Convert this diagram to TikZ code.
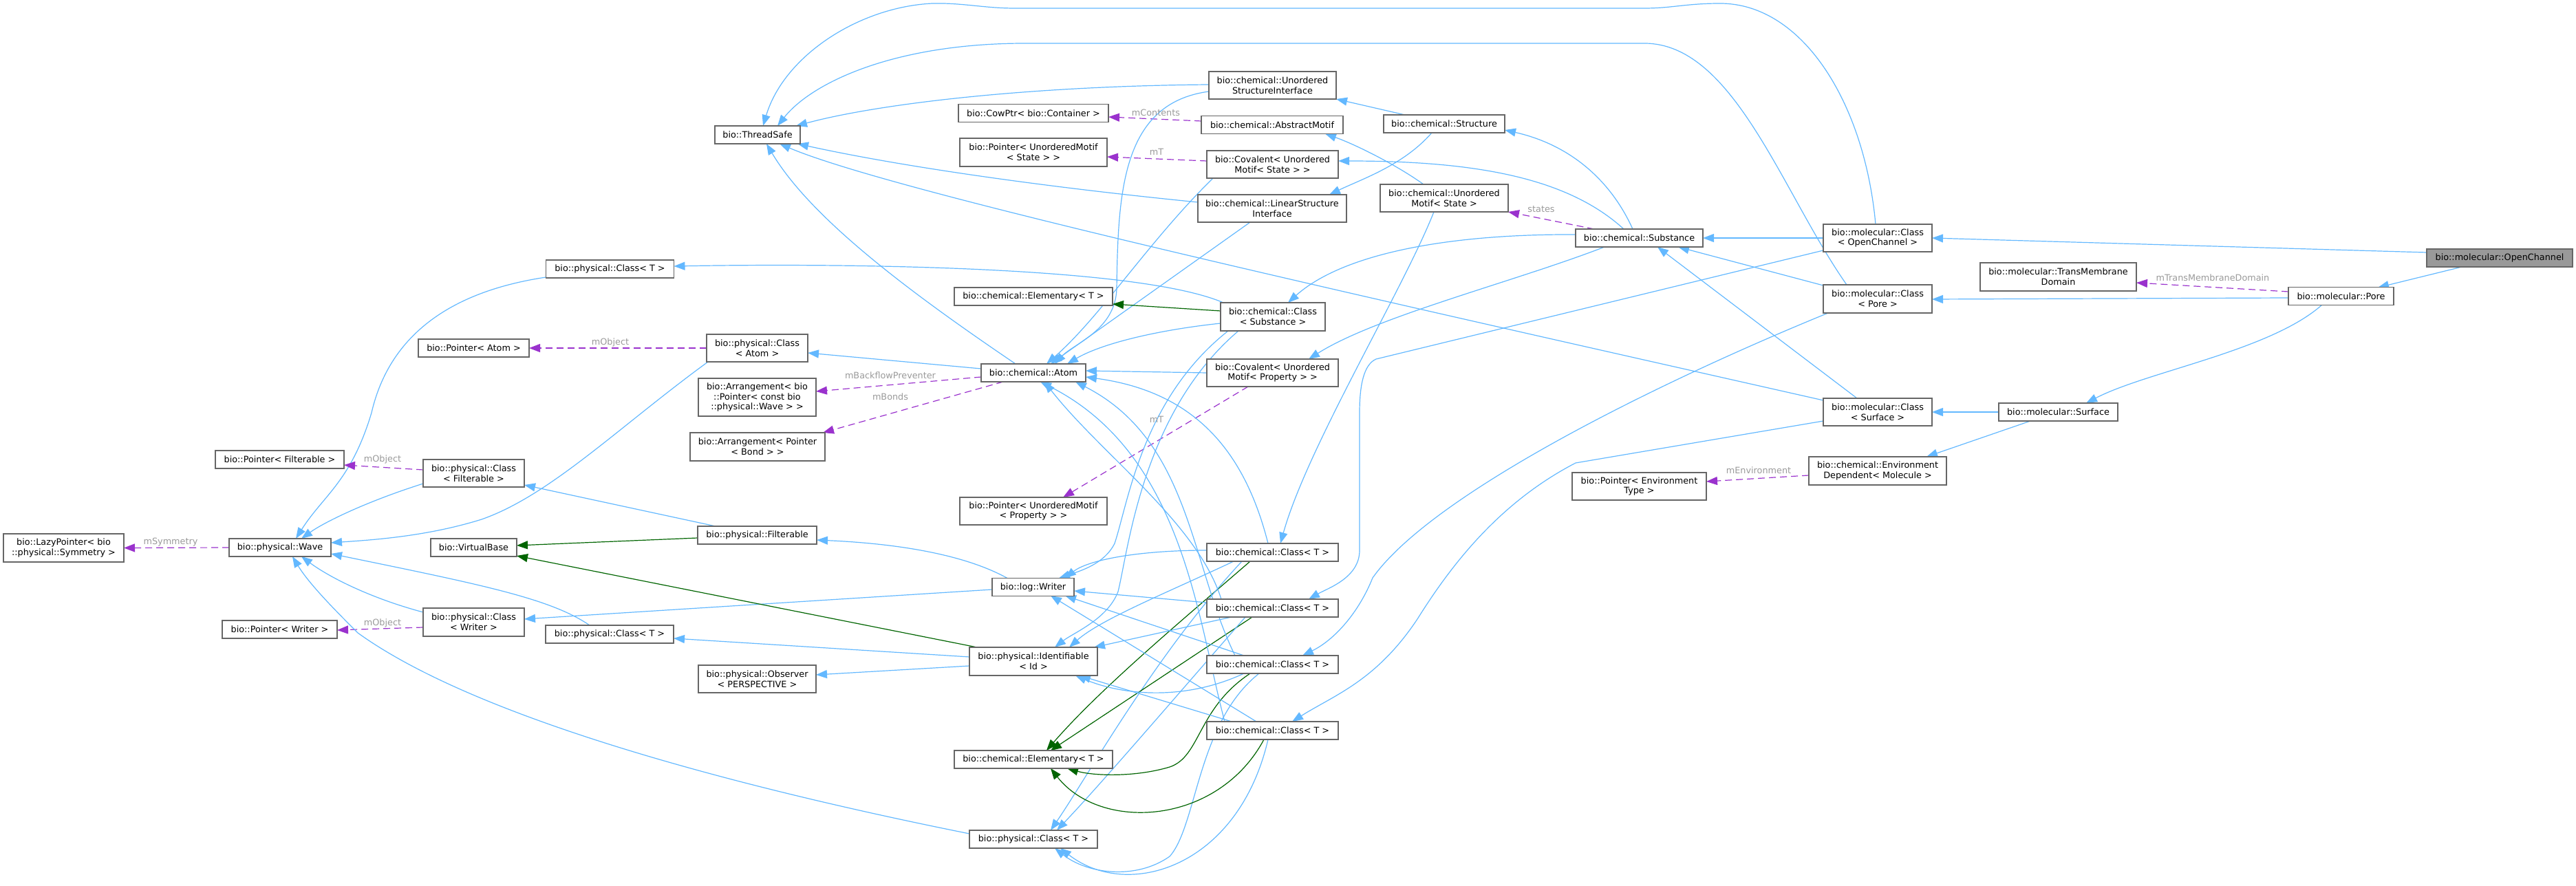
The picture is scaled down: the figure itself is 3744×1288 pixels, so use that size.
\documentclass[tikz,border=0pt]{standalone}
\usepackage{fontspec}
\setmainfont{DejaVu Sans}
\usetikzlibrary{arrows.meta,calc,backgrounds}
\definecolor{inhblue}{HTML}{63B8FF}
\definecolor{protgreen}{HTML}{006400}
\definecolor{usepurple}{HTML}{9A32CD}
\definecolor{lblgrey}{HTML}{9A9A9A}
\definecolor{boxborder}{HTML}{666666}
\definecolor{ocfill}{HTML}{999999}
\begin{document}
\begin{tikzpicture}[x=0.5pt,y=-0.5pt,
  box/.style={draw=boxborder,line width=0.6pt,fill=white,inner sep=0pt,align=center,
    font=\fontsize{6.4}{7.3}\selectfont},
  bx/.style 2 args={minimum width=#1*0.5pt,minimum height=#2*0.5pt},
  inh/.style={draw=inhblue,line width=0.6pt,-{Triangle[length=8pt,width=6pt]}},
  prot/.style={draw=protgreen,line width=0.6pt,-{Triangle[length=8pt,width=6pt]}},
  use/.style={draw=usepurple,line width=0.6pt,dash pattern=on 5pt off 3pt,
    -{Triangle[length=8pt,width=6pt]}},
  lbl/.style={text=lblgrey,inner sep=0pt,font=\fontsize{6.4}{7.3}\selectfont}]
\useasboundingbox (0,0) rectangle (3744,1288);

% ---------------- nodes ----------------
\node[box,bx={212}{26},fill=ocfill] (oc) at (3633,375) {bio::molecular::OpenChannel};
\node[box,bx={158}{40}] (coc) at (2729,346) {bio::molecular::Class\\< OpenChannel >};
\node[box,bx={153}{26}] (pore) at (3402.5,430.5) {bio::molecular::Pore};
\node[box,bx={227}{41}] (tmd) at (2991.5,402.5) {bio::molecular::TransMembrane\\Domain};
\node[box,bx={158}{41}] (cpore) at (2729,434.5) {bio::molecular::Class\\< Pore >};
\node[box,bx={173}{26}] (surf) at (2991.5,599) {bio::molecular::Surface};
\node[box,bx={158}{40}] (csurf) at (2729,599) {bio::molecular::Class\\< Surface >};
\node[box,bx={200}{41}] (env) at (2729,684.5) {bio::chemical::Environment\\Dependent< Molecule >};
\node[box,bx={195}{40}] (penv) at (2382.5,707) {bio::Pointer< Environment\\Type >};
\node[box,bx={185}{26}] (sub) at (2382.5,346) {bio::chemical::Substance};
\node[box,bx={176}{26}] (struct) at (2099,180) {bio::chemical::Structure};
\node[box,bx={186}{40}] (ums) at (2099,288) {bio::chemical::Unordered\\Motif< State >};
\node[box,bx={185}{40}] (usi) at (1849.5,124) {bio::chemical::Unordered\\StructureInterface};
\node[box,bx={206}{26}] (am) at (1849,181.5) {bio::chemical::AbstractMotif};
\node[box,bx={191}{40}] (covs) at (1849.5,239) {bio::Covalent< Unordered\\Motif< State > >};
\node[box,bx={216}{40}] (lsi) at (1849,303) {bio::chemical::LinearStructure\\Interface};
\node[box,bx={218}{26}] (cow) at (1502,164.5) {bio::CowPtr< bio::Container >};
\node[box,bx={214}{41}] (pums) at (1502,221.5) {bio::Pointer< UnorderedMotif\\< State > >};
\node[box,bx={124}{26}] (ts) at (1101,196) {bio::ThreadSafe};
\node[box,bx={186}{26}] (pcu) at (886.5,391) {bio::physical::Class< T >};
\node[box,bx={230}{26}] (elt) at (1502,431) {bio::chemical::Elementary< T >};
\node[box,bx={152}{41}] (csub) at (1850,460.5) {bio::chemical::Class\\< Substance >};
\node[box,bx={191}{40}] (covp) at (1849.5,542) {bio::Covalent< Unordered\\Motif< Property > >};
\node[box,bx={152}{26}] (atom) at (1502,542) {bio::chemical::Atom};
\node[box,bx={147}{40}] (catom) at (1100.5,506) {bio::physical::Class\\< Atom >};
\node[box,bx={161}{26}] (patom) at (688.5,506) {bio::Pointer< Atom >};
\node[box,bx={171}{55}] (arrw) at (1100.5,577.5) {bio::Arrangement< bio\\::Pointer< const bio\\::physical::Wave > >};
\node[box,bx={196}{41}] (arrb) at (1101,649.5) {bio::Arrangement< Pointer\\< Bond > >};
\node[box,bx={214}{40}] (pump) at (1502,743) {bio::Pointer< UnorderedMotif\\< Property > >};
\node[box,bx={173}{26}] (filt) at (1100.5,778) {bio::physical::Filterable};
\node[box,bx={187}{26}] (pfilt) at (406.5,668) {bio::Pointer< Filterable >};
\node[box,bx={147}{40}] (cfilt) at (688.5,688) {bio::physical::Class\\< Filterable >};
\node[box,bx={175}{41}] (lazy) at (92.5,796.5) {bio::LazyPointer< bio\\::physical::Symmetry >};
\node[box,bx={148}{26}] (wave) at (407,796) {bio::physical::Wave};
\node[box,bx={125}{26}] (vb) at (688.5,796) {bio::VirtualBase};
\node[box,bx={119}{26}] (writer) at (1501.5,853.5) {bio::log::Writer};
\node[box,bx={191}{26}] (c1) at (1849.5,803) {bio::chemical::Class< T >};
\node[box,bx={191}{26}] (c2) at (1849.5,884) {bio::chemical::Class< T >};
\node[box,bx={191}{26}] (c3) at (1849.5,966) {bio::chemical::Class< T >};
\node[box,bx={191}{26}] (c4) at (1849.5,1062) {bio::chemical::Class< T >};
\node[box,bx={167}{26}] (pwr) at (406.5,915) {bio::Pointer< Writer >};
\node[box,bx={147}{41}] (cwr) at (688.5,904.5) {bio::physical::Class\\< Writer >};
\node[box,bx={186}{26}] (pcm) at (886,922) {bio::physical::Class< T >};
\node[box,bx={186}{41}] (ident) at (1502,961.5) {bio::physical::Identifiable\\< Id >};
\node[box,bx={171}{40}] (obs) at (1100.5,987) {bio::physical::Observer\\< PERSPECTIVE >};
\node[box,bx={230}{26}] (elb) at (1502,1104) {bio::chemical::Elementary< T >};
\node[box,bx={186}{26}] (pcb) at (1502,1220) {bio::physical::Class< T >};

% ---------------- edges ----------------
\begin{scope}[on background layer]
% right part
\draw[inh] ($(oc)+(-106,-8)$) -- ($(coc)+(79,0)$);
\draw[inh] ($(oc)+(-55,13)$) -- ($(pore)+(53.5,-12.5)$);
\draw[inh] ($(pore)+(-76.5,2.5)$) -- ($(cpore)+(79,0.5)$);
\draw[use] ($(pore)+(-76.5,-6.5)$) -- ($(tmd)+(113.5,8.5)$);
\draw[inh] ($(pore)+(-27.5,12.5)$) .. controls (3300,510) and (3120,540) .. ($(surf)+(40.5,-13)$);
\draw[inh] ($(surf)+(-86.5,0)$) -- ($(csurf)+(79,0)$);
\draw[inh] ($(surf)+(-40.5,13)$) -- ($(env)+(71,-20.5)$);
\draw[use] ($(env)+(-100,6.5)$) -- ($(penv)+(97.5,-7)$);
\draw[inh] ($(coc)+(-79,0)$) -- ($(sub)+(92.5,0)$);
\draw[inh] ($(coc)+(-3,-20)$) .. controls (2710,150) and (2620,5) .. (2500,5)
  .. controls (2450,5) and (2430,12) .. (2390,12) -- (1475,12)
  .. controls (1430,12) and (1400,4) .. (1355,5)
  .. controls (1250,10) and (1140,80) .. ($(ts)+(8,-13)$);
\draw[inh] ($(coc)+(-79,18)$) -- (2000,522) .. controls (1982,530) and (1976,560) .. (1976,600)
  -- (1976,800) .. controls (1976,840) and (1930,855) .. ($(c2)+(52.5,-13)$);
\draw[inh] ($(cpore)+(-79,-19.5)$) -- ($(sub)+(56.5,13)$);
\draw[inh] ($(cpore)+(-45,-20.5)$) .. controls (2590,280) and (2520,63) .. (2390,63)
  -- (1490,63) .. controls (1300,63) and (1180,120) .. ($(ts)+(29,-13)$);
\draw[inh] ($(cpore)+(-72,20.5)$) .. controls (2400,560) and (2080,720) .. (1995,840)
  .. controls (1975,890) and (1940,930) .. ($(c3)+(43.5,-13)$);
\draw[inh] ($(csurf)+(-30,-20)$) -- ($(sub)+(26.5,13)$);
\draw[inh] ($(csurf)+(-79,-17)$) .. controls (2000,435) and (1300,280) .. ($(ts)+(32,13)$);
\draw[inh] ($(csurf)+(-79,13)$) -- (2290,673) .. controls (2180,730) and (2110,820) .. (2060,900)
  .. controls (2000,990) and (1940,1010) .. ($(c4)+(28.5,-13)$);
% substance & structures
\draw[inh] ($(sub)+(-9.5,-13)$) .. controls (2340,260) and (2280,210) .. ($(struct)+(88,9)$);
\draw[inh] ($(sub)+(-22.5,-13)$) .. controls (2280,260) and (2150,234) .. ($(covs)+(95.5,-5)$);
\draw[inh] ($(sub)+(-92.5,-5)$) .. controls (2100,340) and (1950,370) .. ($(csub)+(22,-20.5)$);
\draw[inh] ($(sub)+(-50.5,13)$) .. controls (2200,410) and (2000,460) .. ($(covp)+(52.5,-20)$);
\draw[use] ($(sub)+(-65.5,-13)$) -- ($(ums)+(93,20)$);
\draw[inh] ($(struct)+(-57,-13)$) -- ($(usi)+(92.5,20)$);
\draw[inh] ($(struct)+(-18,13)$) .. controls (2040,240) and (1980,260) .. ($(lsi)+(83,-20)$);
\draw[inh] ($(ums)+(-30,-20)$) .. controls (2030,240) and (1970,210) .. ($(am)+(77,13)$);
\draw[inh] ($(ums)+(-15,20)$) .. controls (2040,420) and (1900,650) .. ($(c1)+(11.5,-13)$);
\draw[use] ($(am)+(-103,-5.5)$) -- ($(cow)+(109,5.5)$);
\draw[use] ($(covs)+(-95.5,-5)$) -- ($(pums)+(107,6.5)$);
\draw[inh] ($(usi)+(-92.5,-1)$) .. controls (1500,125) and (1280,150) .. ($(ts)+(56,-13)$);
\draw[inh] ($(usi)+(-92.5,9)$) .. controls (1630,150) and (1625,280) .. (1623,420)
  .. controls (1621,480) and (1560,500) .. ($(atom)+(31,-13)$);
\draw[inh] ($(lsi)+(-108,-9)$) .. controls (1500,270) and (1300,240) .. ($(ts)+(58,13)$);
\draw[inh] ($(lsi)+(-32,20)$) -- ($(atom)+(25,-13)$);
\draw[inh] ($(covs)+(-86.5,20)$) .. controls (1670,350) and (1600,460) .. ($(atom)+(19,-13)$);
\draw[inh] ($(covp)+(-95.5,0)$) -- ($(atom)+(76,-3)$);
\draw[use] ($(covp)+(-35.5,20)$) -- ($(pump)+(43,-20)$);
% class substance
\draw[inh] ($(csub)+(-76,9.5)$) .. controls (1680,480) and (1600,500) .. ($(atom)+(49,-13)$);
\draw[prot] ($(csub)+(-76,-8.5)$) -- ($(elt)+(115,11)$);
\draw[inh] ($(csub)+(-72,-20.5)$) .. controls (1650,385) and (1200,383) .. ($(pcu)+(93,-4)$);
\draw[inh] ($(csub)+(-65,20.5)$) .. controls (1660,580) and (1640,730) .. (1620,790)
  .. controls (1605,820) and (1570,830) .. ($(writer)+(37.5,-13)$);
\draw[inh] ($(csub)+(-50,20.5)$) .. controls (1660,600) and (1640,800) .. (1625,860)
  .. controls (1610,900) and (1560,920) .. ($(ident)+(31,-20.5)$);
% atom
\draw[inh] ($(atom)+(-26,-13)$) .. controls (1330,430) and (1180,320) .. ($(ts)+(13,13)$);
\draw[inh] ($(atom)+(-76,-6)$) -- ($(catom)+(73.5,7)$);
\draw[use] ($(atom)+(-76,6)$) -- ($(arrw)+(85.5,-8.5)$);
\draw[use] ($(atom)+(-44,13)$) -- ($(arrb)+(95,-20.5)$);
\draw[use] ($(catom)+(-73.5,0)$) -- ($(patom)+(80.5,0)$);
\draw[inh] ($(catom)+(-71.5,20)$) .. controls (900,620) and (800,720) .. (700,755)
  .. controls (620,780) and (540,785) .. ($(wave)+(74,-7)$);
\draw[inh] ($(pcu)+(-93,12)$) .. controls (680,420) and (570,470) .. (540,600)
  .. controls (510,700) and (470,720) .. ($(wave)+(23,-13)$);
% left part
\draw[use] ($(cfilt)+(-73.5,-5)$) -- ($(pfilt)+(93.5,8)$);
\draw[inh] ($(cfilt)+(-73.5,15)$) .. controls (530,730) and (470,760) .. ($(wave)+(31,-13)$);
\draw[inh] ($(filt)+(-60.5,-13)$) -- ($(cfilt)+(73.5,17)$);
\draw[prot] ($(filt)+(-86.5,4)$) -- ($(vb)+(62.5,-3)$);
\draw[inh] ($(writer)+(-37.5,-13)$) .. controls (1400,805) and (1300,790) .. ($(filt)+(86.5,7)$);
\draw[inh] ($(writer)+(-59.5,3.5)$) -- ($(cwr)+(73.5,-4.5)$);
\draw[use] ($(cwr)+(-73.5,7.5)$) -- ($(pwr)+(83.5,1)$);
\draw[inh] ($(cwr)+(-73.5,-14.5)$) .. controls (540,870) and (480,840) .. ($(wave)+(31,13)$);
\draw[inh] ($(pcm)+(-29,-13)$) .. controls (800,870) and (700,850) .. ($(wave)+(74,9)$);
\draw[inh] ($(pcb)+(-93,-8)$) .. controls (1100,1150) and (700,1050) .. (520,920)
  .. controls (490,890) and (450,850) .. ($(wave)+(18,13)$);
\draw[use] ($(wave)+(-74,0)$) -- ($(lazy)+(87.5,0)$);
\draw[prot] ($(ident)+(-82,-20.5)$) -- ($(vb)+(62.5,12)$);
\draw[inh] ($(ident)+(-93,-6.5)$) -- ($(pcm)+(93,6)$);
\draw[inh] ($(ident)+(-93,6.5)$) -- ($(obs)+(85.5,-6)$);
% chemical::Class< T > boxes
\draw[inh] ($(c1)+(-6.5,-13)$) .. controls (1810,660) and (1740,570) .. ($(atom)+(76,6)$);
\draw[inh] ($(c1)+(-95.5,-3)$) .. controls (1650,800) and (1580,815) .. ($(writer)+(46.5,-13)$);
\draw[inh] ($(c1)+(-56.5,13)$) .. controls (1700,860) and (1600,900) .. ($(ident)+(52,-20.5)$);
\draw[prot] ($(c1)+(-32.5,13)$) .. controls (1720,900) and (1600,1000) .. ($(elb)+(19,-13)$);
\draw[inh] ($(c1)+(-44.5,13)$) .. controls (1680,950) and (1580,1130) .. ($(pcb)+(25,-13)$);
\draw[inh] ($(c2)+(-74.5,-13)$) .. controls (1740,760) and (1600,660) .. ($(atom)+(16,13)$);
\draw[inh] ($(c2)+(-95.5,-8)$) -- ($(writer)+(59.5,5.5)$);
\draw[inh] ($(c2)+(-59.5,13)$) -- ($(ident)+(88,-20.5)$);
\draw[prot] ($(c2)+(-29.5,13)$) -- ($(elb)+(25,-13)$);
\draw[inh] ($(c2)+(-39.5,13)$) .. controls (1720,1000) and (1600,1140) .. ($(pcb)+(34,-13)$);
\draw[inh] ($(c3)+(-54.5,-13)$) .. controls (1730,820) and (1730,640) .. ($(atom)+(61,13)$);
\draw[inh] ($(c3)+(-41.5,-13)$) -- ($(writer)+(46.5,12.5)$);
\draw[inh] ($(c3)+(-41.5,13)$) .. controls (1720,1020) and (1630,1010) .. ($(ident)+(61,20.5)$);
\draw[prot] ($(c3)+(-32.5,13)$) .. controls (1740,1030) and (1745,1100) .. (1700,1115)
  .. controls (1650,1130) and (1590,1128) .. ($(elb)+(49,13)$);
\draw[inh] ($(c3)+(-19.5,13)$) .. controls (1740,1050) and (1740,1200) .. (1700,1245)
  .. controls (1650,1280) and (1580,1270) .. ($(pcb)+(31,13)$);
\draw[inh] ($(c4)+(-69.5,-13)$) .. controls (1740,900) and (1720,660) .. ($(atom)+(10,13)$);
\draw[inh] ($(c4)+(-23.5,-13)$) -- ($(writer)+(25.5,12.5)$);
\draw[inh] ($(c4)+(-59.5,-13)$) -- ($(ident)+(67,20.5)$);
\draw[prot] ($(c4)+(-12.5,13)$) .. controls (1770,1200) and (1600,1210) .. ($(elb)+(25,13)$);
\draw[inh] ($(c4)+(-6.5,13)$) .. controls (1800,1260) and (1640,1310) .. ($(pcb)+(39,13)$);
\end{scope}

% ---------------- edge labels ----------------
\node[lbl] (l1) at (3216,404) {mTransMembraneDomain};
\node[lbl] (l2) at (2556,684) {mEnvironment};
\node[lbl] (l3) at (1680,164) {mContents};
\node[lbl] (l4) at (1681,221) {mT};
\node[lbl] (l5) at (1681,610) {mT};
\node[lbl] (l6) at (2240,304) {states};
\node[lbl] (l7) at (1294,546) {mBackflowPreventer};
\node[lbl] (l8) at (1294,577) {mBonds};
\node[lbl] (l9) at (887,498) {mObject};
\node[lbl] (l10) at (556,668) {mObject};
\node[lbl] (l11) at (556,906) {mObject};
\node[lbl] (l12) at (248,788) {mSymmetry};
\end{tikzpicture}
\end{document}
